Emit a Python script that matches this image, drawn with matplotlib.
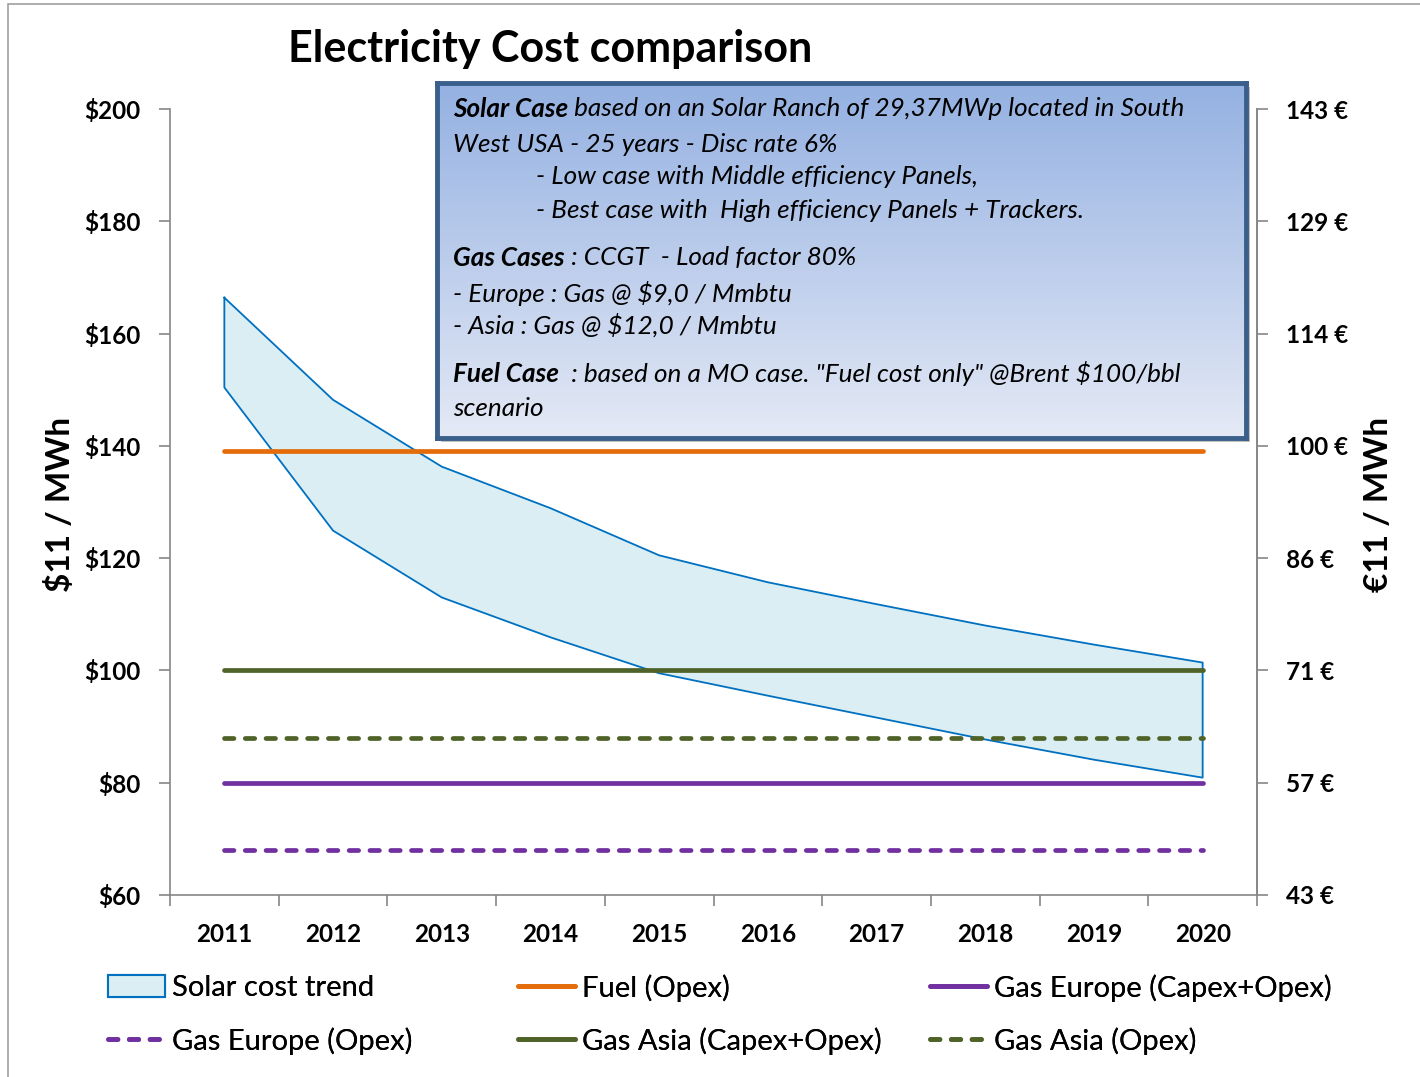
import matplotlib
matplotlib.use("Agg")
import matplotlib.pyplot as plt
import numpy as np
from matplotlib.lines import Line2D
from matplotlib.patches import Patch, Rectangle

plt.rcParams['font.family'] = ['Lato', 'DejaVu Sans']

# --- data -------------------------------------------------------------
years = ['2011', '2012', '2013', '2014', '2015', '2016', '2017', '2018', '2019', '2020']
solar_high = [166.4, 148.2, 136.3, 128.9, 120.5, 115.7, 111.8, 108.0, 104.6, 101.4]
solar_low = [150.4, 124.9, 113.0, 105.9, 99.5, 95.5, 91.6, 87.7, 84.1, 80.9]
fuel_opex = 139
gas_asia_capex_opex = 100
gas_asia_opex = 88
gas_europe_capex_opex = 80
gas_europe_opex = 68
usd_ticks = [60, 80, 100, 120, 140, 160, 180, 200]
usd_per_eur = 1.4

# --- colours ----------------------------------------------------------
c_orange = '#E46C0A'
c_purple = '#7030A0'
c_green = '#4F6228'
c_band_edge = '#0070C0'
c_band_fill = '#DAEEF3'
c_axis = '#868686'

W, H = 1420, 1077
fig = plt.figure(figsize=(W / 100, H / 100), dpi=100)

# outer chart border
fig.patches.append(Rectangle((8 / W, -0.01), 1.02, 1 - 4 / H + 0.01, transform=fig.transFigure,
                             fill=False, edgecolor='#A0A0A0', linewidth=1.2, zorder=0))

ax = fig.add_axes([170 / W, 1 - 895 / H, (1257 - 170) / W, (895 - 109) / H])
x = np.arange(len(years))

ax.fill_between(x, solar_low, solar_high, facecolor=c_band_fill, edgecolor='none', zorder=1)
band_x = np.concatenate([x, x[::-1], x[:1]])
band_y = np.concatenate([solar_high, solar_low[::-1], solar_high[:1]])
ax.plot(band_x, band_y, color=c_band_edge, linewidth=1.3, zorder=2)

lw = 3.4
dash = (2.0, 2.4)
ax.plot(x, [fuel_opex] * len(x), color=c_orange, lw=lw, solid_capstyle='round', zorder=3)
ax.plot(x, [gas_asia_capex_opex] * len(x), color=c_green, lw=lw, solid_capstyle='round', zorder=3)
ax.plot(x, [gas_asia_opex] * len(x), color=c_green, lw=lw, dash_capstyle='round',
        dashes=dash, zorder=3)
ax.plot(x, [gas_europe_capex_opex] * len(x), color=c_purple, lw=lw, solid_capstyle='round', zorder=3)
ax.plot(x, [gas_europe_opex] * len(x), color=c_purple, lw=lw, dash_capstyle='round',
        dashes=dash, zorder=3)

ax.set_xlim(-0.5, len(years) - 0.5)
ax.set_ylim(60, 200)
ax.set_yticks(usd_ticks)
ax.set_yticklabels([f'${v}' for v in usd_ticks])
ax.set_xticks(x)
ax.set_xticklabels(years)
ax.set_xticks(np.arange(-0.5, len(years)), minor=True)
ax.tick_params(axis='x', which='major', length=0, pad=20)
ax.tick_params(axis='x', which='minor', length=8, color=c_axis, width=1.2)
ax.tick_params(axis='y', length=8, color=c_axis, width=1.2, pad=13)
for lab in ax.get_xticklabels() + ax.get_yticklabels():
    lab.set_fontweight('bold')
    lab.set_fontsize(17.5)
ax.spines['top'].set_visible(False)
for side in ['left', 'right', 'bottom']:
    ax.spines[side].set_color(c_axis)
    ax.spines[side].set_linewidth(1.2)

ax2 = ax.twinx()
ax2.set_ylim(60, 200)
ax2.set_yticks(usd_ticks)
ax2.set_yticklabels([f'{round(v / usd_per_eur)} €' for v in usd_ticks])
ax2.tick_params(axis='y', length=8, color=c_axis, width=1.2, pad=13)
for lab in ax2.get_yticklabels():
    lab.set_fontweight('bold')
    lab.set_fontsize(17.5)
for side in ['top', 'left', 'bottom']:
    ax2.spines[side].set_visible(False)
ax2.spines['right'].set_color(c_axis)
ax2.spines['right'].set_linewidth(1.2)

fig.text(60 / W, 1 - 504 / H, '$11 / MWh', rotation=90, fontsize=24, fontweight='bold',
         ha='center', va='center')
fig.text(1378 / W, 1 - 504 / H, '€11 / MWh', rotation=90, fontsize=24, fontweight='bold',
         ha='center', va='center')
fig.text(550 / W, 1 - 49 / H, 'Electricity Cost comparison', fontsize=31, fontweight='bold',
         ha='center', va='center')

# annotation box with vertical gradient and a soft shadow
bx0, by0, bx1, by1 = 437, 83, 1246, 438
fig.patches.append(Rectangle(((bx0 + 4) / W, 1 - (by1 + 4) / H), (bx1 - bx0) / W, (by1 - by0) / H,
                             transform=fig.transFigure, facecolor='#BFBFBF', edgecolor='none',
                             zorder=4))
bax = fig.add_axes([bx0 / W, 1 - by1 / H, (bx1 - bx0) / W, (by1 - by0) / H], zorder=5)
grad = np.linspace(0, 1, 256)[:, None]
top = np.array(matplotlib.colors.to_rgb('#94B1E2'))
bot = np.array(matplotlib.colors.to_rgb('#E4E9F5'))
img = top[None, None, :] * (1 - grad[:, :, None]) + bot[None, None, :] * grad[:, :, None]
bax.imshow(img, aspect='auto', extent=[0, 1, 0, 1], origin='upper')
bax.set_xlim(0, 1)
bax.set_ylim(0, 1)
bax.set_xticks([])
bax.set_yticks([])
for s in bax.spines.values():
    s.set_color('#3A5F8B')
    s.set_linewidth(3.5)

lines = [
    (453, 109, [('Solar Case', True), (' based on an Solar Ranch of 29,37MWp located in South', False)]),
    (453, 144, [('West USA - 25 years - Disc rate 6%', False)]),
    (536, 177, [('- Low case with Middle efficiency Panels,', False)]),
    (536, 211, [('- Best case with  High efficiency Panels + Trackers.', False)]),
    (453, 258, [('Gas Cases', True), (' : CCGT  - Load factor 80%', False)]),
    (453, 293, [('- Europe : Gas @ $9,0 / Mmbtu', False)]),
    (453, 325, [('- Asia : Gas @ $12,0 / Mmbtu', False)]),
    (453, 374, [('Fuel Case', True), ('  : based on a MO case. "Fuel cost only" @Brent $100/bbl', False)]),
    (453, 408, [('scenario', False)]),
]

fig.canvas.draw()
renderer = fig.canvas.get_renderer()
for px, py, parts in lines:
    cur = px
    for txt, bold in parts:
        t = fig.text(cur / W, 1 - py / H, txt, fontsize=18.8, style='italic',
                     fontweight='bold' if bold else 'normal', va='center', ha='left', zorder=6)
        cur += t.get_window_extent(renderer).width

# legend: one entry per slot, laid out in a 3 x 2 grid
fs_leg = 21
entries = [
    (108, 988, Patch(facecolor=c_band_fill, edgecolor=c_band_edge, linewidth=1.5,
                     label='Solar cost trend')),
    (518, 988, Line2D([], [], color=c_orange, lw=lw, solid_capstyle='round', label='Fuel (Opex)')),
    (930, 988, Line2D([], [], color=c_purple, lw=lw, solid_capstyle='round',
                      label='Gas Europe (Capex+Opex)')),
    (108, 1041, Line2D([], [], color=c_purple, lw=lw, dashes=dash, dash_capstyle='round',
                       label='Gas Europe (Opex)')),
    (518, 1041, Line2D([], [], color=c_green, lw=lw, solid_capstyle='round',
                       label='Gas Asia (Capex+Opex)')),
    (930, 1041, Line2D([], [], color=c_green, lw=lw, dashes=dash, dash_capstyle='round',
                       label='Gas Asia (Opex)')),
]
for ex, ey, h in entries:
    leg = fig.legend(handles=[h], loc='center left', bbox_to_anchor=(ex / W, 1 - ey / H),
                     frameon=False, fontsize=fs_leg, handlelength=1.95, handleheight=0.75,
                     handletextpad=0.25, borderpad=0, borderaxespad=0)
    fig.add_artist(leg)

fig.savefig('out.png', dpi=100)
